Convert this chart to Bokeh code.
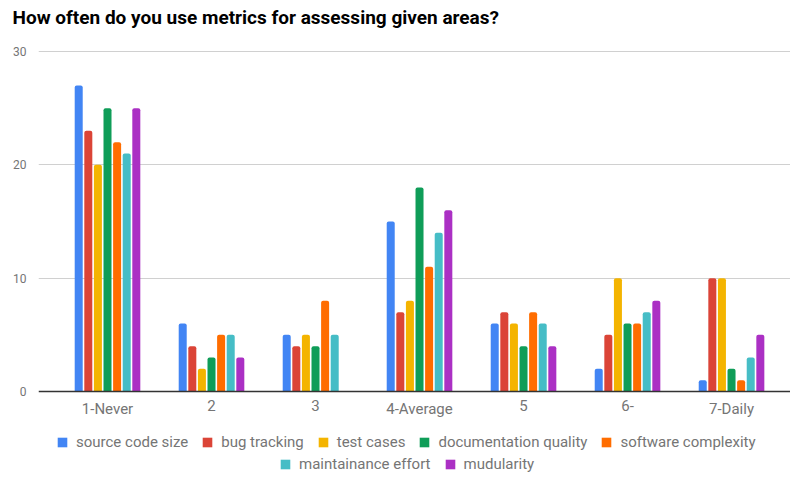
from bokeh.plotting import figure
from bokeh.models import (ColumnDataSource, Range1d, FixedTicker, Legend,
                          LegendItem, Title, Span)
from bokeh.core.properties import value
from bokeh.embed import file_html
from bokeh.resources import INLINE

# Answer categories (x axis)
categories = ["1-Never", "2", "3", "4-Average", "5", "6-", "7-Daily"]

# Number of answers per area
source_code_size = [27, 6, 5, 15, 6, 2, 1]
bug_tracking = [23, 4, 4, 7, 7, 5, 10]
test_cases = [20, 2, 5, 8, 6, 10, 10]
documentation_quality = [25, 3, 4, 18, 4, 6, 2]
software_complexity = [22, 5, 8, 11, 7, 6, 1]
maintainance_effort = [21, 5, 5, 14, 6, 7, 3]
mudularity = [25, 3, 0, 16, 4, 8, 5]

series_names = ["source code size", "bug tracking", "test cases",
                "documentation quality", "software complexity",
                "maintainance effort", "mudularity"]
series_values = [source_code_size, bug_tracking, test_cases,
                 documentation_quality, software_complexity,
                 maintainance_effort, mudularity]
colors = ["#4285F4", "#DB4437", "#F4B400", "#0F9D58", "#FF6D00",
          "#46BDC6", "#AB30C4"]

y_ticks = [0, 10, 20, 30]

FONT = "Roboto"
GREY = "#757575"

# the frame reaches the bottom of the page so that the category labels and the
# two legend rows can sit under the zero line; a little headroom above 30
p = figure(width=790, height=477, output_backend="svg", toolbar_location=None,
           x_range=Range1d(-0.6635, 6.567), y_range=Range1d(-7.588, 31.853),
           min_border_left=38, min_border_right=0, min_border_top=30,
           min_border_bottom=0)
p.title = None
p.add_layout(Title(text="How often do you use metrics for assessing given areas?",
                   text_font=FONT, text_font_size="19px", text_font_style="bold",
                   text_color="#000000", offset=-26, standoff=4), "above")

step = 0.0923
bar_w = 0.077
items = []
for j, (name, vals, col) in enumerate(zip(series_names, series_values, colors)):
    xs = [i + (j - 3) * step for i in range(len(categories))]
    src = ColumnDataSource(dict(x=xs, top=vals))
    r = p.vbar(x="x", top="top", width=bar_w, bottom=0, source=src,
               fill_color=col, line_color=None, border_radius=(2, 2, 0, 0))
    items.append(LegendItem(label=name, renderers=[r]))

# zero line
p.add_layout(Span(location=0, dimension="width", line_color="#333333",
                  line_width=1.5))

# category labels under the zero line
p.text(x=list(range(len(categories))), y=[0] * len(categories), text=categories,
       text_align="center", text_baseline="top", y_offset=8,
       text_font=value(FONT), text_font_size="15px", text_color=GREY)

p.xaxis.visible = False

p.yaxis.ticker = FixedTicker(ticks=y_ticks)
p.yaxis.major_label_text_font = FONT
p.yaxis.major_label_text_font_size = "12px"
p.yaxis.major_label_text_color = GREY
p.yaxis.axis_line_color = None
p.yaxis.major_tick_line_color = None
p.yaxis.minor_tick_line_color = None
p.yaxis.major_label_standoff = 6

p.xgrid.grid_line_color = None
p.ygrid.grid_line_color = "#D0D0D0"
p.ygrid.ticker = FixedTicker(ticks=y_ticks[1:])
p.outline_line_color = None


def make_legend(its, loc):
    return Legend(items=its, orientation="horizontal", location=loc,
                  label_text_font=FONT, label_text_font_size="15px",
                  label_text_color=GREY, glyph_width=12, glyph_height=12,
                  spacing=13, padding=0, margin=0, label_standoff=8,
                  border_line_color=None, background_fill_alpha=0)


p.add_layout(make_legend(items[:5], (18, 26)))
p.add_layout(make_legend(items[5:], (241, 4)))

open("out.html", "w").write(file_html(p, INLINE))
